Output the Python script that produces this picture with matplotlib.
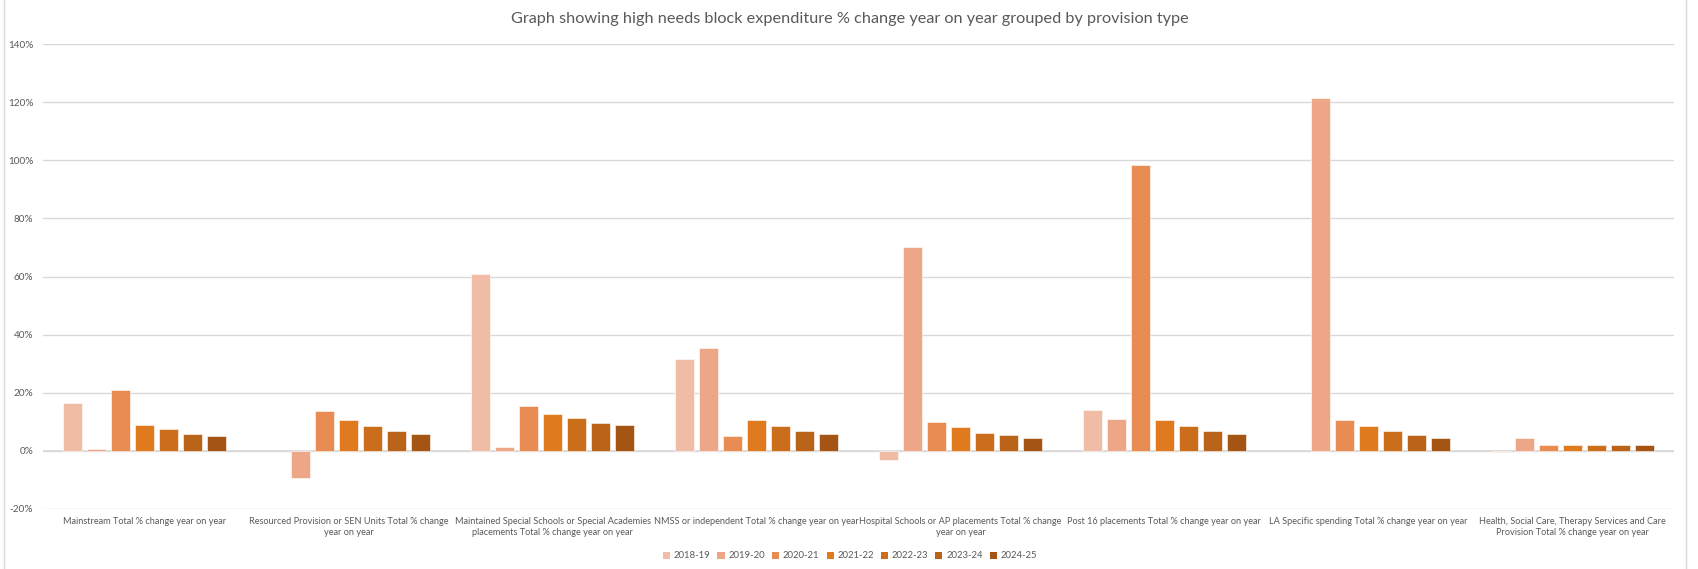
import matplotlib
matplotlib.use("Agg")
import matplotlib.pyplot as plt
import numpy as np
from matplotlib.ticker import FuncFormatter
from matplotlib.lines import Line2D
from matplotlib.patches import Patch

plt.rcParams['font.family'] = ['Lato', 'DejaVu Sans']

categories = [
    "Mainstream Total % change year on year",
    "Resourced Provision or SEN Units Total % change\nyear on year",
    "Maintained Special Schools or Special Academies\nplacements Total % change year on year",
    "NMSS or independent Total % change year on year",
    "Hospital Schools or AP placements Total % change\nyear on year",
    "Post 16 placements Total % change year on year",
    "LA Specific spending Total % change year on year",
    "Health, Social Care, Therapy Services and Care\nProvision Total % change year on year",
]
series_names = ["2018-19", "2019-20", "2020-21", "2021-22", "2022-23", "2023-24", "2024-25"]

s2018_19 = [16.4, np.nan, 60.7, 31.6, -3.3, 13.9, np.nan, -0.3]
s2019_20 = [0.7, -9.3, 1.4, 35.3, 70.0, 10.9, 121.3, 4.6]
s2020_21 = [20.8, 13.6, 15.5, 5.1, 9.8, 98.5, 10.6, 2.0]
s2021_22 = [8.9, 10.6, 12.6, 10.6, 8.1, 10.6, 8.6, 2.0]
s2022_23 = [7.5, 8.6, 11.25, 8.6, 6.25, 8.6, 6.7, 2.0]
s2023_24 = [5.8, 6.7, 9.7, 6.7, 5.3, 6.7, 5.6, 2.0]
s2024_25 = [5.0, 5.8, 8.75, 5.8, 4.4, 5.7, 4.6, 2.0]
series = [s2018_19, s2019_20, s2020_21, s2021_22, s2022_23, s2023_24, s2024_25]

colors = ["#F1BCA5", "#EDA786", "#E98C54", "#DF7A1F", "#CB6E1C", "#B96418", "#A45514"]

W, H = 1698, 569
fig = plt.figure(figsize=(W / 100, H / 100), dpi=100)
ax = fig.add_axes([43 / W, 1 - 509 / H, (1674 - 43) / W, (509 - 44) / H])

x = np.arange(len(categories))
pitch = 24 / 204
width = 19 / 204
for j, (vals, c, name) in enumerate(zip(series, colors, series_names)):
    v = np.array(vals, dtype=float) / 100.0
    ax.bar(x + (j - 3) * pitch, v, width=width, color=c, label=name,
           edgecolor="white", linewidth=0.4, zorder=3)

ax.set_xlim(-0.5, len(categories) - 0.5)
ax.set_ylim(-0.2, 1.4)
ax.set_yticks(np.arange(-0.2, 1.41, 0.2))
ax.yaxis.set_major_formatter(FuncFormatter(lambda v, p: f"{v*100:.0f}%"))
ax.grid(axis='y', color="#D9D9D9", linewidth=1.0, zorder=0)
ax.axhline(0, color="#D9D9D9", linewidth=1.2, zorder=2)
for s in ax.spines.values():
    s.set_visible(False)
ax.tick_params(axis='y', length=0, pad=7, labelsize=7.2, labelcolor="#595959")
ax.set_xticks(x)
ax.set_xticklabels(categories, fontsize=6.6, color="#595959", linespacing=1.3)
ax.tick_params(axis='x', length=0, pad=6)

fig.text(850 / W, 1 - 19.5 / H,
         "Graph showing high needs block expenditure % change year on year grouped by provision type",
         ha='center', va='center', fontsize=11.7, color="#595959")

handles = [Patch(facecolor=c, edgecolor='none') for c in colors]
fig.legend(handles, series_names, loc='center', bbox_to_anchor=(850 / W, 1 - 556 / H),
           ncol=7, frameon=False, fontsize=6.8, labelcolor="#595959",
           handlelength=0.75, handleheight=0.75, handletextpad=0.4, columnspacing=0.75)

fig.add_artist(Line2D([4 / W, 4 / W], [0, 1], color="#D9D9D9", linewidth=1))
fig.add_artist(Line2D([1686 / W, 1686 / W], [0, 1], color="#D9D9D9", linewidth=1))

fig.savefig("out.png", dpi=100)
